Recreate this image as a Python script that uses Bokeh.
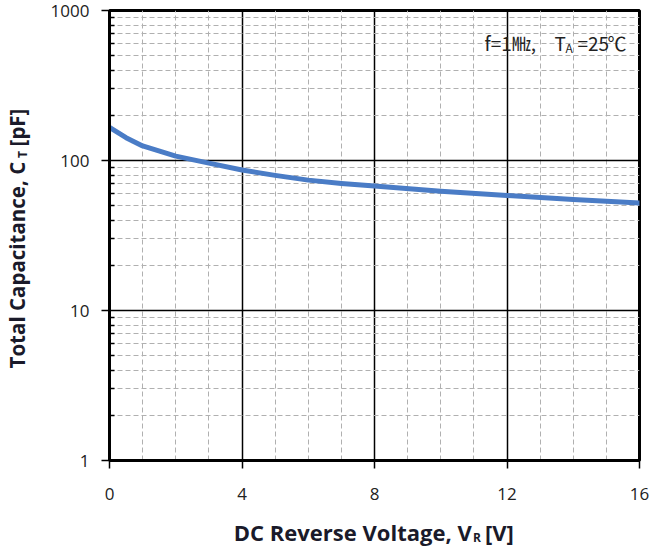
from bokeh.plotting import figure
from bokeh.models import (Range1d, FixedTicker, NumeralTickFormatter, Label,
                          LinearAxis, ColumnDataSource)
from bokeh.embed import file_html
from bokeh.resources import INLINE

# ---- data ----
voltage = [0, 0.5, 1, 2, 3, 4, 5, 6, 7, 8, 10, 12, 14, 16]
capacitance = [166, 142, 125, 107, 96, 86.4, 79.6, 74, 70.3, 67.5, 62.4, 58.4, 54.9, 52.1]

x_major = [0, 4, 8, 12, 16]
x_minor = [1, 2, 3, 5, 6, 7, 9, 10, 11, 13, 14, 15]
y_major = [1, 10, 100, 1000]
y_minor = [m * d for d in [1, 10, 100] for m in range(2, 10)]

# axis titles, split into normal-size text and subscripts
x_title_main = ["DC Reverse  Voltage, V", "[V]"]
x_title_main_at = [7.43, 11.77]          # centre of each piece, in volts
x_title_sub = ["R"]
x_title_sub_at = [11.09]
y_title_main = ["Total Capacitance,  C", "[pF]"]
y_title_main_at = [20.9, 166.0]          # centre of each piece, in pF
y_title_sub = ["T"]
y_title_sub_at = [109.6]

FRAME_L, FRAME_R, FRAME_T, FRAME_B = 108, 16, 10, 91

p = figure(width=655, height=551, y_axis_type="log",
           x_range=Range1d(0, 16), y_range=Range1d(1, 1000),
           output_backend="svg", toolbar_location=None,
           min_border_left=FRAME_L, min_border_right=FRAME_R,
           min_border_top=FRAME_T, min_border_bottom=FRAME_B)

p.background_fill_color = "white"
p.border_fill_color = "white"
p.outline_line_color = "black"
p.outline_line_width = 3

p.xgrid.ticker = FixedTicker(ticks=x_major, minor_ticks=x_minor)
p.ygrid.ticker = FixedTicker(ticks=y_major, minor_ticks=y_minor)
for g in (p.xgrid, p.ygrid):
    g.grid_line_color = "black"
    g.grid_line_width = 1.5
    g.minor_grid_line_color = "#b0b0b0"
    g.minor_grid_line_width = 1
    g.minor_grid_line_dash = "5 3"

TICK_FONT = "Open Sans"
p.xaxis.ticker = FixedTicker(ticks=x_major, minor_ticks=[])
p.yaxis.ticker = FixedTicker(ticks=y_major, minor_ticks=y_minor)
p.xaxis.formatter = NumeralTickFormatter(format="0")
p.yaxis.formatter = NumeralTickFormatter(format="0")
for ax in (p.xaxis, p.yaxis):
    ax.axis_line_color = "black"
    ax.axis_line_width = 3
    ax.major_tick_line_color = "black"
    ax.major_tick_line_width = 1.5
    ax.major_tick_out = 8
    ax.major_tick_in = 0
    ax.major_label_text_font = TICK_FONT
    ax.major_label_text_font_size = "17px"
    ax.major_label_text_color = "#222222"
    ax.axis_label = None
p.xaxis.minor_tick_line_color = None
p.xaxis.major_label_standoff = 19
p.yaxis.minor_tick_line_color = "black"
p.yaxis.minor_tick_line_width = 1.5
p.yaxis.minor_tick_in = 5
p.yaxis.minor_tick_out = 0
p.yaxis.major_label_standoff = 12

src = ColumnDataSource(dict(v=voltage, c=capacitance))
p.line("v", "c", source=src, line_color="#4a7cc6", line_width=5,
       line_join="round", line_cap="round")

TITLE_FONT = "Open Sans"
TITLE_COLOR = "#1a1a2a"

def title_axis(texts, at, size, standoff, vertical=False):
    ax = LinearAxis(ticker=FixedTicker(ticks=at, minor_ticks=[]),
                    major_label_overrides={a: t for a, t in zip(at, texts)},
                    axis_line_color=None, major_tick_line_color=None,
                    minor_tick_line_color=None,
                    major_tick_in=0, major_tick_out=0,
                    minor_tick_in=0, minor_tick_out=0,
                    major_label_standoff=standoff,
                    major_label_text_font=TITLE_FONT,
                    major_label_text_font_size=size,
                    major_label_text_font_style="bold",
                    major_label_text_color=TITLE_COLOR)
    if vertical:
        ax.major_label_orientation = "vertical"
    return ax

# below: main title pieces, then the subscript
p.add_layout(title_axis(x_title_main, x_title_main_at, "22px", 14), "below")
p.add_layout(title_axis(x_title_sub, x_title_sub_at, "12px", -21), "below")
# left: subscript first, then main pieces
p.add_layout(title_axis(y_title_sub, y_title_sub_at, "12px", 16, True), "left")
p.add_layout(title_axis(y_title_main, y_title_main_at, "20.5px", -20, True), "left")

# condition note inside the plot (screen units from frame bottom-left)
CJK = "Noto Sans CJK KR"
note_text = ["f=1\u3392,", "T", "A", "=25", "\u2103"]
note_x = [375, 445, 456, 468, 498]
note_y = [418.3, 418.3, 413.3, 418.3, 418.3]
note_size = ["19px", "19px", "12px", "19px", "19px"]
for t, x, y, s in zip(note_text, note_x, note_y, note_size):
    p.add_layout(Label(x=x, y=y, x_units="screen", y_units="screen", text=t,
                       text_font=CJK, text_font_size=s, text_color="#222222",
                       text_align="left", text_baseline="alphabetic"))

open("out.html", "w").write(file_html(p, INLINE))
